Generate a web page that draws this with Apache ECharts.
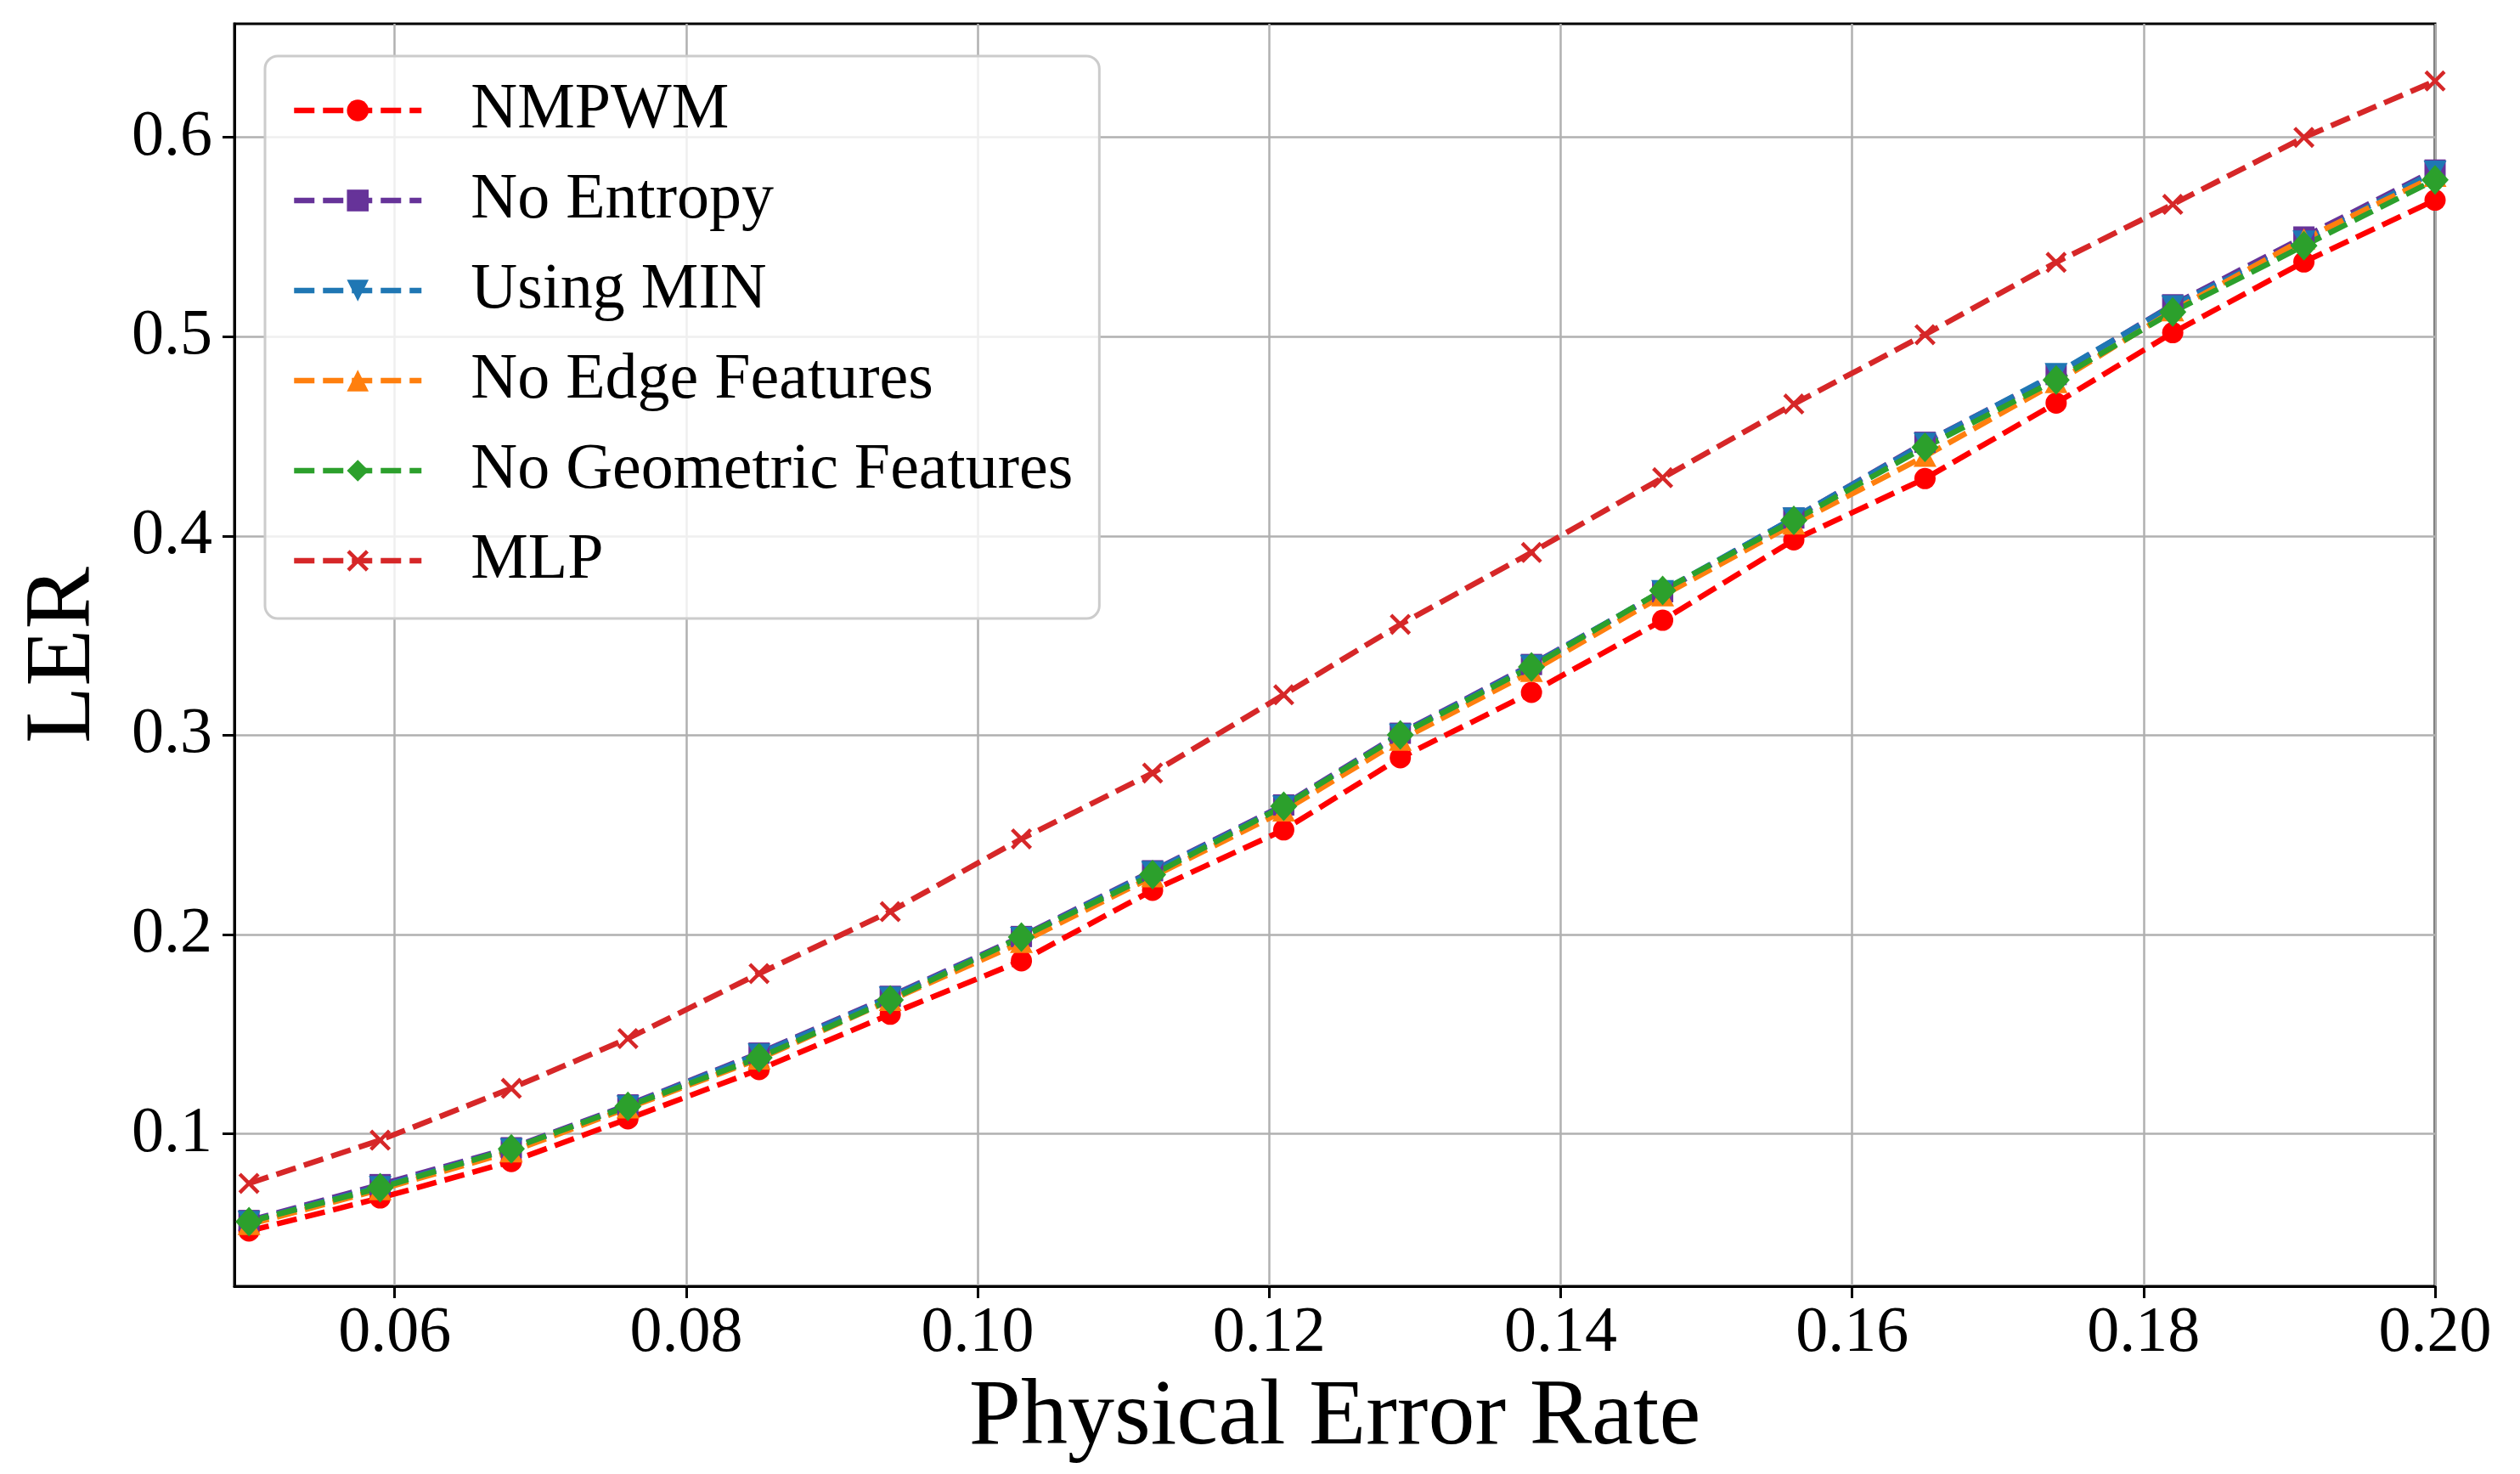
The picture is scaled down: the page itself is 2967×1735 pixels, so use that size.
<!DOCTYPE html>
<html>
<head>
<meta charset="utf-8">
<title>LER vs physical error rate</title>
<script src="https://cdn.jsdelivr.net/npm/echarts@6/dist/echarts.min.js"></script>
<style>
  html, body { margin: 0; padding: 0; background: #fff; }
  #chart { width: 2967px; height: 1735px; }
</style>
</head>
<body>
<div id="chart"></div>
<script>
// physical error rates (x)
var errorRates = [0.05, 0.059, 0.068, 0.076, 0.085, 0.094, 0.103, 0.112, 0.121,
  0.129, 0.138, 0.147, 0.156, 0.165, 0.174, 0.182, 0.191, 0.2];

// LER per model
var nmpwm = [0.0512, 0.0678, 0.0861, 0.1075, 0.1322, 0.1600, 0.1868, 0.2222, 0.2525,
  0.2887, 0.3215, 0.3577, 0.3980, 0.4288, 0.4667, 0.5020, 0.5375, 0.5685];
var noEntropy = [0.0565, 0.0745, 0.0930, 0.1145, 0.1405, 0.1690, 0.1990, 0.2320, 0.2650,
  0.3010, 0.3355, 0.3720, 0.4090, 0.4470, 0.4810, 0.5160, 0.5500, 0.5836];
var usingMin = [0.0560, 0.0735, 0.0925, 0.1140, 0.1400, 0.1685, 0.1985, 0.2315, 0.2645,
  0.3005, 0.3350, 0.3725, 0.4090, 0.4465, 0.4815, 0.5155, 0.5480, 0.5830];
var noEdge = [0.0545, 0.0720, 0.0910, 0.1130, 0.1375, 0.1670, 0.1960, 0.2290, 0.2620,
  0.2975, 0.3320, 0.3700, 0.4060, 0.4400, 0.4770, 0.5130, 0.5490, 0.5805];
var noGeom = [0.0559, 0.0729, 0.0925, 0.1138, 0.1382, 0.1672, 0.1987, 0.2300, 0.2644,
  0.3002, 0.3343, 0.3727, 0.4078, 0.4445, 0.4783, 0.5124, 0.5456, 0.5787];
var mlp = [0.0751, 0.0968, 0.1228, 0.1478, 0.1804, 0.2115, 0.2480, 0.2810, 0.3203,
  0.3556, 0.3917, 0.4292, 0.4662, 0.5010, 0.5373, 0.5664, 0.6000, 0.6283];

// tick labels
var xTicks = [0.06, 0.08, 0.10, 0.12, 0.14, 0.16, 0.18, 0.20];
var yTicks = [0.1, 0.2, 0.3, 0.4, 0.5, 0.6];

var FONT = "Liberation Serif";
var DASH = [24, 10];
var CROSS = "path://M2.5,0 L10,7.5 L17.5,0 L20,2.5 L12.5,10 L20,17.5 L17.5,20 L10,12.5 L2.5,20 L0,17.5 L7.5,10 L0,2.5 Z";

function pairs(ys) {
  var out = [];
  for (var i = 0; i < errorRates.length; i++) {
    out.push([errorRates[i], ys[i]]);
  }
  return out;
}

function makeSeries(name, ys, color, symbol, size, rotate) {
  return {
    name: name,
    type: "line",
    data: pairs(ys),
    symbol: symbol,
    symbolSize: size,
    symbolRotate: rotate || 0,
    showAllSymbol: true,
    itemStyle: { color: color },
    lineStyle: { color: color, width: 6.5, type: DASH },
    emphasis: { disabled: true }
  };
}

var myChart = echarts.init(document.getElementById("chart"));

var option = {
  animation: false,
  backgroundColor: "#ffffff",
  grid: {
    left: 276,
    right: 100,
    top: 28,
    bottom: 221,
    show: true,
    borderColor: "#000",
    borderWidth: 3,
    backgroundColor: "transparent",
    outerBoundsMode: "none"
  },
  legend: {
    orient: "vertical",
    left: 312,
    top: 66,
    padding: [22, 31, 26, 31],
    itemWidth: 150,
    itemHeight: 32,
    itemGap: 22,
    backgroundColor: "rgba(255,255,255,0.8)",
    borderColor: "#cccccc",
    borderWidth: 3,
    borderRadius: 15,
    lineStyle: { width: 6.5, type: DASH },
    textStyle: {
      fontFamily: FONT,
      fontSize: 76,
      color: "#000",
      lineHeight: 84,
      padding: [0, 0, 0, 53]
    }
  },
  xAxis: {
    type: "value",
    min: 0.049,
    max: 0.2,
    name: "Physical Error Rate",
    nameLocation: "middle",
    nameGap: 101,
    nameTextStyle: { fontFamily: FONT, fontSize: 110, color: "#000" },
    axisLine: { show: true, onZero: false, lineStyle: { color: "#000", width: 3 } },
    axisTick: { show: true, inside: false, length: 14, lineStyle: { color: "#000", width: 3 }, customValues: xTicks },
    axisLabel: {
      customValues: xTicks,
      margin: 18,
      fontFamily: FONT,
      fontSize: 76,
      color: "#000",
      formatter: function (v) { return v.toFixed(2); }
    },
    splitLine: { show: true, lineStyle: { color: "#b0b0b0", width: 2.5 } }
  },
  yAxis: {
    type: "value",
    min: 0.0235,
    max: 0.657,
    name: "LER",
    nameLocation: "middle",
    nameRotate: 90,
    nameGap: 145,
    nameTextStyle: { fontFamily: FONT, fontSize: 110, color: "#000" },
    axisLine: { show: true, onZero: false, lineStyle: { color: "#000", width: 3 } },
    axisTick: { show: true, inside: false, length: 14, lineStyle: { color: "#000", width: 3 }, customValues: yTicks },
    axisLabel: {
      customValues: yTicks,
      margin: 26,
      fontFamily: FONT,
      fontSize: 76,
      color: "#000",
      formatter: function (v) { return v.toFixed(1); }
    },
    splitLine: { show: true, lineStyle: { color: "#b0b0b0", width: 2.5 } }
  },
  series: [
    makeSeries("NMPWM", nmpwm, "#ff0000", "circle", 25),
    makeSeries("No Entropy", noEntropy, "#663399", "rect", 25),
    makeSeries("Using MIN", usingMin, "#1f77b4", "triangle", [27, 25], 180),
    makeSeries("No Edge Features", noEdge, "#ff7f0e", "triangle", [27, 25]),
    makeSeries("No Geometric Features", noGeom, "#2ca02c", "diamond", [32, 35]),
    makeSeries("MLP", mlp, "#d62728", CROSS, 25)
  ]
};

myChart.setOption(option);
</script>
</body>
</html>
